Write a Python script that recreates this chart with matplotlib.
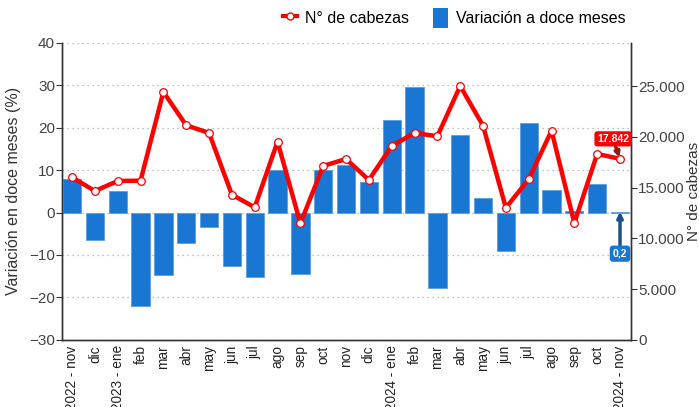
import matplotlib.pyplot as plt
import numpy as np
from matplotlib.ticker import FuncFormatter, MultipleLocator
from matplotlib.lines import Line2D
from matplotlib.patches import Patch

plt.rcParams['font.family'] = ['Liberation Sans', 'DejaVu Sans']

months = ['2022 - nov', 'dic', '2023 - ene', 'feb', 'mar', 'abr', 'may', 'jun', 'jul',
          'ago', 'sep', 'oct', 'nov', 'dic', '2024 - ene', 'feb', 'mar', 'abr', 'may',
          'jun', 'jul', 'ago', 'sep', 'oct', '2024 - nov']
variacion = [8.0, -6.5, 5.0, -22.1, -14.8, -7.1, -3.5, -12.6, -15.3, 10.0, -14.4, 10.1,
             11.3, 7.1, 21.9, 29.7, -17.9, 18.2, 3.5, -9.1, 21.2, 5.3, 0.4, 6.7, 0.2]
cabezas = [16020, 14670, 15660, 15690, 24440, 21150, 20400, 14310, 13060, 19540, 11480,
           17140, 17830, 15760, 19110, 20400, 20070, 25030, 21110, 13020, 15830, 20620,
           11510, 18330, 17842]

bar_color = '#1976d2'
line_color = '#ff0000'
tick_color = '#444444'

fig = plt.figure(figsize=(6.99, 4.07), dpi=100)
ax = fig.add_axes([0.0887, 0.1653, 0.8140, 0.7293])
ax2 = ax.twinx()

x = np.arange(len(months))
ax.bar(x, variacion, width=0.8, color=bar_color, edgecolor='#5c9ee0', linewidth=0.6, zorder=2)
ax2.plot(x, cabezas, '-o', color=line_color, lw=3.2, markersize=5.5,
         markerfacecolor='white', markeredgecolor=line_color, markeredgewidth=0.9, zorder=3)

ax.set_xlim(-0.44, 24.48)
ax.set_ylim(-30, 40)
ax2.set_ylim(0, 29280)
ax.yaxis.set_major_locator(MultipleLocator(10))
ax2.set_yticks([0, 5000, 10000, 15000, 20000, 25000])
ax2.yaxis.set_major_formatter(FuncFormatter(lambda v, p: f'{int(v):,}'.replace(',', '.')))

ax.set_xticks(x)
ax.set_xticklabels(months, rotation=90, fontsize=9.8, color='#222222')
ax.tick_params(axis='x', length=0, pad=4)
ax.tick_params(axis='y', labelsize=11, labelcolor=tick_color, color='#333333', length=4, pad=1)
ax2.tick_params(axis='y', labelsize=11, labelcolor=tick_color, color='#333333', length=4, pad=1)

ax.grid(axis='y', linestyle=(0, (1, 3)), color='#aaaaaa', linewidth=0.9, zorder=0)
ax.set_axisbelow(True)

for a in (ax, ax2):
    a.spines['top'].set_visible(False)
    for s in ('left', 'right', 'bottom'):
        a.spines[s].set_color('#333333')
        a.spines[s].set_linewidth(1.0)

ax.set_ylabel('Variación en doce meses (%)', fontsize=11.5, color='#333333', labelpad=6)
ax2.set_ylabel('N° de cabezas', fontsize=11, color='#333333', labelpad=2)

# last-value annotations
last = len(months) - 1
ax2.annotate(f'{cabezas[last]:,}'.replace(',', '.'), xy=(x[last], cabezas[last]),
             xytext=(-7, 20), textcoords='offset pixels', ha='center', va='center',
             fontsize=7.5, fontweight='bold', color='white',
             bbox=dict(boxstyle='round,pad=0.25', fc='#ff0000', ec='none'),
             arrowprops=dict(arrowstyle='-|>', color='#8b1a1a', lw=2.5, shrinkA=0, shrinkB=1,
                             mutation_scale=7), zorder=5)
ax.annotate(f'{variacion[last]}'.replace('.', ','), xy=(x[last], variacion[last]),
            xytext=(0, -42), textcoords='offset pixels', ha='center', va='center',
            fontsize=7.5, fontweight='bold', color='white',
            bbox=dict(boxstyle='round,pad=0.3', fc='#1976d2', ec='none'),
            arrowprops=dict(arrowstyle='-|>', color='#1f4e8c', lw=2.5, shrinkA=0, shrinkB=0,
                            mutation_scale=8), zorder=5)

handles = [Line2D([0], [0], color=line_color, lw=3, marker='o', markersize=5,
                  markerfacecolor='white', markeredgecolor=line_color),
           Patch(facecolor=bar_color, edgecolor='none')]
fig.legend(handles, ['N° de cabezas', 'Variación a doce meses'], loc='upper right',
           bbox_to_anchor=(0.915, 1.015), ncol=2, frameon=False, fontsize=11.5,
           handlelength=0.9, handleheight=1.5, columnspacing=1.5, handletextpad=0.5)

fig.savefig('out.png', dpi=100)
